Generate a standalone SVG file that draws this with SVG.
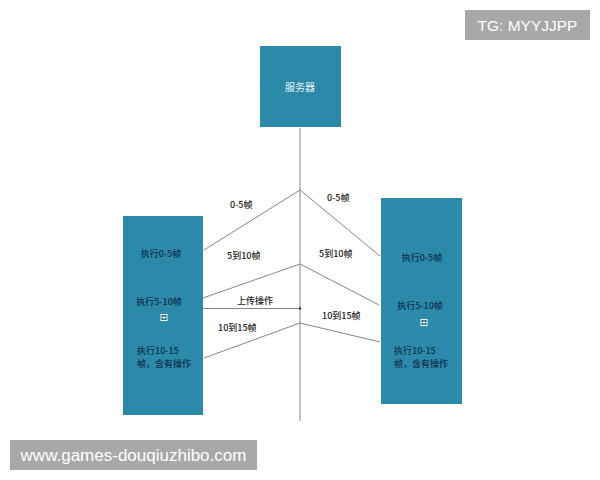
<svg xmlns="http://www.w3.org/2000/svg" width="600" height="480" viewBox="0 0 600 480">
<defs>
<style>
.box{fill:#2b8aaa;}
.ln{stroke:#858585;stroke-width:1;fill:none;}
.lbl{font-family:"Noto Sans CJK SC","Liberation Sans",sans-serif;font-size:9px;font-weight:500;fill:#222;}
.bt{font-family:"Noto Sans CJK SC","Liberation Sans",sans-serif;font-size:9px;font-weight:500;fill:#0f2f4a;}
.st{font-family:"Noto Sans CJK SC","Liberation Sans",sans-serif;font-size:10px;fill:#e8f2f6;}
.wm{fill:#a8a8a8;}
.wt{font-family:"Liberation Sans","Noto Sans",sans-serif;fill:#ffffff;}
.ic{fill:#1d5f78;stroke:#ffffff;stroke-width:1;}
</style>
</defs>
<g id="connectors">
<line class="ln" x1="300" y1="128" x2="300" y2="421"/>
<polyline class="ln" points="204,250 300,190 380,256"/>
<polyline class="ln" points="203,298 300,264 379,305"/>
<line class="ln" x1="203" y1="308.5" x2="300" y2="308.5"/>
<rect x="299" y="307.5" width="2" height="2" fill="#222"/>
<polyline class="ln" points="204,358 300,323 380,342"/>
<text class="lbl" x="230" y="208">0-5帧</text>
<text class="lbl" x="327" y="201">0-5帧</text>
<text class="lbl" x="227" y="259">5到10帧</text>
<text class="lbl" x="319" y="257">5到10帧</text>
<text class="lbl" x="237" y="304">上传操作</text>
<text class="lbl" x="218" y="331">10到15帧</text>
<text class="lbl" x="322" y="319">10到15帧</text>
</g>
<g id="server">
<rect class="box" x="260" y="46" width="81" height="81"/>
<text class="st" x="300" y="91" text-anchor="middle">服务器</text>
</g>
<g id="client-left">
<rect class="box" x="123" y="216" width="80" height="199"/>
<text class="bt" x="161" y="257" text-anchor="middle">执行0-5帧</text>
<text class="bt" x="159" y="305" text-anchor="middle">执行5-10帧</text>
<rect class="ic" x="161" y="314.5" width="6" height="6"/>
<path d="M164 315.5v4M162 317.5h4" stroke="#ffffff" stroke-width="1"/>
<text class="bt" x="137" y="354">执行10-15</text>
<text class="bt" x="137" y="367">帧，含有操作</text>
</g>
<g id="client-right">
<rect class="box" x="381" y="198" width="81" height="206"/>
<text class="bt" x="422" y="261" text-anchor="middle">执行0-5帧</text>
<text class="bt" x="420" y="309" text-anchor="middle">执行5-10帧</text>
<rect class="ic" x="421" y="319.5" width="6" height="6"/>
<path d="M424 320.5v4M422 322.5h4" stroke="#ffffff" stroke-width="1"/>
<text class="bt" x="394" y="354">执行10-15</text>
<text class="bt" x="394" y="367">帧，含有操作</text>
</g>
<g id="watermark-top">
<rect class="wm" x="465" y="10" width="125" height="30"/>
<text class="wt" x="527.5" y="31" font-size="15.5" text-anchor="middle">TG: MYYJJPP</text>
</g>
<g id="watermark-bottom">
<rect class="wm" x="10" y="440" width="247" height="30"/>
<text class="wt" x="133.5" y="461" font-size="17" text-anchor="middle">www.games-douqiuzhibo.com</text>
</g>
</svg>
